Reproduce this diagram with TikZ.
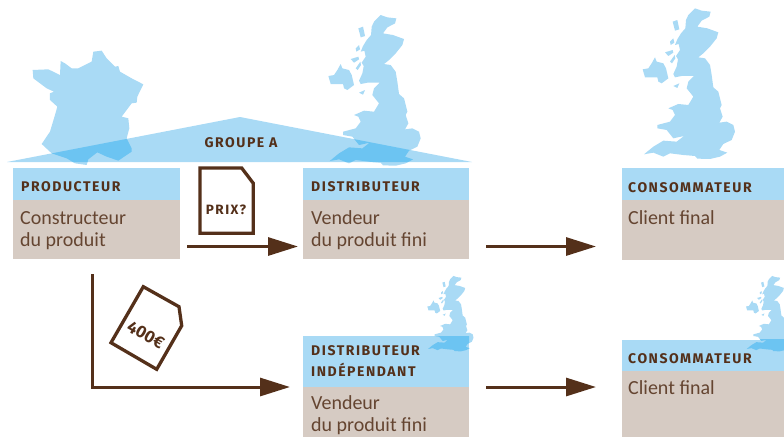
\documentclass[tikz,border=0pt]{standalone}
\usepackage{fontspec}
\usetikzlibrary{arrows.meta}
\setmainfont{Carlito}
\newfontfamily\hfont[LetterSpace=11]{Fira Sans Bold}
\newfontfamily\nfont{Fira Sans Bold}
\definecolor{lblue}{HTML}{A9DAF5}
\definecolor{dblue}{HTML}{6CC4F2}
\definecolor{taupe}{HTML}{D6CBC3}
\definecolor{brownc}{HTML}{54301A}
\def\ukpath{
 (225,25) -- (245,32) -- (272,35) -- (268,50) -- (245,62) -- (232,80) -- (262,85) -- (295,97) -- (290,115) -- (270,140) -- (250,160) -- (235,172) -- (255,175) -- (270,195) -- (275,225) -- (280,262) -- (295,275) -- (305,315) -- (300,325) -- (308,350) -- (298,368) -- (320,365) -- (340,375) -- (345,395) -- (335,420) -- (310,432) -- (298,450) -- (322,458) -- (300,470) -- (270,477) -- (232,476) -- (225,468) -- (190,465) -- (150,460) -- (130,470) -- (100,458) -- (72,463) -- (100,440) -- (130,422) -- (170,425) -- (192,408) -- (160,415) -- (140,390) -- (112,385) -- (112,375) -- (150,365) -- (165,345) -- (158,330) -- (145,325) -- (175,312) -- (205,315) -- (220,290) -- (200,265) -- (205,245) -- (222,228) -- (185,228) -- (165,232) -- (160,222) -- (170,200) -- (174,178) -- (168,168) -- (180,150) -- (176,132) -- (165,135) -- (172,118) -- (183,100) -- (196,85) -- (198,60) -- (205,45) -- cycle
 (105,172) -- (110,185) -- (130,190) -- (138,205) -- (145,235) -- (125,250) -- (115,245) -- (112,232) -- (85,232) -- (75,232) -- (68,208) -- (85,205) -- (95,190) -- cycle
 (158,65) -- (172,60) -- (178,88) -- (165,92) -- cycle
 (150,125) -- (160,115) -- (163,128) -- (152,135) -- cycle
 (135,157) -- (158,150) -- (160,158) -- (145,168) -- cycle
 (150,185) -- (164,165) -- (166,175) -- (156,190) -- cycle
 (160,258) -- (178,250) -- (172,264) -- cycle
}
\def\frpath{
 (280,155) -- (305,152) -- (320,175) -- (345,200) -- (355,198) -- (360,215) -- (395,235) -- (430,253) -- (412,290) -- (410,308) -- (395,310) -- (365,350) -- (385,355) -- (388,385) -- (380,415) -- (395,445) -- (395,455) -- (355,482) -- (320,470) -- (292,457) -- (265,478) -- (260,495) -- (225,490) -- (200,475) -- (155,460) -- (125,432) -- (150,395) -- (165,345) -- (172,320) -- (150,300) -- (150,280) -- (162,275) -- (140,265) -- (100,235) -- (98,210) -- (145,208) -- (180,225) -- (182,183) -- (195,190) -- (215,205) -- (235,205) -- (275,185) -- cycle
}
\def\bandpath{(7,162) -- (240,117) -- (472,162) -- cycle}
\tikzset{
 hdrbox/.style={fill=lblue,anchor=north west,inner sep=0pt,outer sep=0pt},
 bodybox/.style={fill=taupe,anchor=north west,inner sep=0pt,outer sep=0pt},
 hdrtext/.style={anchor=base west,inner sep=0pt,text=brownc,font=\hfont\fontsize{14}{14}\selectfont},
 bodytext/.style={anchor=base west,inner sep=0pt,text=brownc!90!white,font=\fontsize{20}{20}\selectfont},
 doctext/.style={inner sep=0pt,text=brownc},
 flow/.style={draw=brownc,line width=3pt,-{Triangle[length=30pt,width=18pt,inset=0pt]}},
 docline/.style={draw=brownc,line width=3.3pt,miter limit=10,fill=white},
 map/.style={fill=lblue},
 mapdark/.style={fill=dblue}
}
\begin{document}
\begin{tikzpicture}[x=1pt,y=-1pt]
\useasboundingbox (0,0) rectangle (784,437);
% band and large maps
\fill[map] \bandpath;
\begin{scope}[scale=0.3333]\fill[map] \frpath;\end{scope}
\begin{scope}[shift={(305.7,6.7)},scale=0.3333]\fill[map] \ukpath;\end{scope}
\begin{scope}[shift={(620,0)},scale=0.3333]\fill[map] \ukpath;\end{scope}
\begin{scope}
 \clip \bandpath;
 \begin{scope}[scale=0.3333]\fill[mapdark] \frpath;\end{scope}
 \begin{scope}[shift={(305.7,6.7)},scale=0.3333]\fill[mapdark] \ukpath;\end{scope}
\end{scope}
\node[inner sep=0pt,text=brownc,font=\hfont\fontsize{14}{14}\selectfont] (groupe) at (241,142.5) {GROUPE A};
% boxes
\node[hdrbox,minimum width=167pt,minimum height=32pt] (ph) at (13,168) {};
\node[bodybox,minimum width=167pt,minimum height=59pt] (pb) at (13,200) {};
\node[hdrbox,minimum width=166pt,minimum height=32pt] (dh) at (303,168) {};
\node[bodybox,minimum width=166pt,minimum height=59pt] (db) at (303,200) {};
\node[hdrbox,minimum width=162pt,minimum height=32pt] (ch) at (622,168) {};
\node[bodybox,minimum width=162pt,minimum height=60pt] (cb) at (622,200) {};
\node[hdrbox,minimum width=166pt,minimum height=51pt] (ih) at (303,336) {};
\node[bodybox,minimum width=166pt,minimum height=50pt] (ib) at (303,387) {};
\node[hdrbox,minimum width=162pt,minimum height=31.5pt] (kh) at (622,339.5) {};
\node[bodybox,minimum width=162pt,minimum height=66pt] (kb) at (622,371) {};
% small maps
\begin{scope}[shift={(416,271.8)},scale=0.1667]\fill[map] \ukpath;\end{scope}
\begin{scope}[shift={(734.7,271.8)},scale=0.1667]\fill[map] \ukpath;\end{scope}
\begin{scope}
 \clip (303,336) rectangle (469,387);
 \begin{scope}[shift={(416,271.8)},scale=0.1667]\fill[mapdark] \ukpath;\end{scope}
\end{scope}
\begin{scope}
 \clip (622,339.5) rectangle (784,371);
 \begin{scope}[shift={(734.7,271.8)},scale=0.1667]\fill[mapdark] \ukpath;\end{scope}
\end{scope}
% texts
\node[hdrtext] (t1) at (21,191) {PRODUCTEUR};
\node[bodytext] (t2) at (20,224) {Constructeur};
\node[bodytext] (t3) at (20,246) {du produit};
\node[hdrtext] (t4) at (311,191) {DISTRIBUTEUR};
\node[bodytext] (t5) at (311,224) {Vendeur};
\node[bodytext] (t6) at (311,246) {du produit fini};
\node[hdrtext] (t7) at (628,192) {CONSOMMATEUR};
\node[bodytext] (t8) at (628,224) {Client final};
\node[hdrtext] (t9) at (311,355) {DISTRIBUTEUR};
\node[hdrtext] (t10) at (311,376) {INDÉPENDANT};
\node[bodytext] (t11) at (311,409) {Vendeur};
\node[bodytext] (t12) at (311,431) {du produit fini};
\node[hdrtext] (t13) at (628,363) {CONSOMMATEUR};
\node[bodytext] (t14) at (628,394) {Client final};
% documents
\path[docline] (200,168) -- (241.7,168) -- (253.3,183.3) -- (253.3,233.3) -- (200,233.3) -- cycle;
\node[doctext,font=\hfont\fontsize{13.5}{13.5}\selectfont] (prix) at (226,209.5) {PRIX?};
\path[docline] (143.3,286.7) -- (179,306.7) -- (181.7,325.7) -- (156.7,369.3) -- (111,342.7) -- cycle;
\node[doctext,rotate=-30,font=\nfont\fontsize{17}{17}\selectfont] (prix2) at (145.7,335) {400€};
% connectors
\draw[flow] ([xshift=7pt,yshift=12.5pt]pb.south east) -- ([xshift=-5pt,yshift=12.5pt]db.south west);
\draw[flow] ([xshift=17pt,yshift=12.5pt]db.south east) -- ([xshift=-26pt,yshift=13.5pt]cb.south west);
\draw[flow] ([xshift=79pt,yshift=-15pt]pb.south west) -- ([xshift=79pt,yshift=-128pt]pb.south west) -- ([xshift=-13pt]ib.north west);
\draw[flow] ([xshift=17pt]ib.north east) -- ([xshift=-26pt,yshift=-16pt]kb.north west);
\end{tikzpicture}
\end{document}
